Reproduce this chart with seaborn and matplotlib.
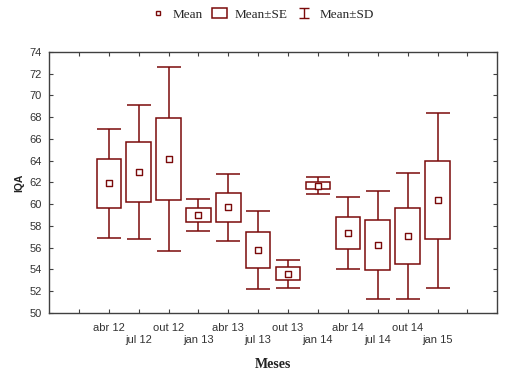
import numpy as np
import matplotlib
matplotlib.use("Agg")
import matplotlib.pyplot as plt
import seaborn as sns
from matplotlib.patches import Patch
from matplotlib.lines import Line2D
from matplotlib.path import Path

# values
months = ["abr 12", "jul 12", "out 12", "jan 13", "abr 13", "jul 13",
          "out 13", "jan 14", "abr 14", "jul 14", "out 14", "jan 15"]
means = [61.9, 62.95, 64.15, 59.0, 59.7, 55.75, 53.6, 61.7, 57.35, 56.25, 57.05, 60.35]
se = [2.25, 2.75, 3.8, 0.65, 1.35, 1.65, 0.6, 0.33, 1.47, 2.3, 2.57, 3.6]
sd = [5.0, 6.15, 8.5, 1.45, 3.05, 3.6, 1.27, 0.78, 3.35, 5.0, 5.8, 8.05]

COLOR = "#7a0a0a"
SPINE = "#404040"

# "I" shaped marker for the Mean±SD legend entry
I_MARKER = Path([(-1, 1), (1, 1), (0, 1), (0, -1), (-1, -1), (1, -1)],
                [Path.MOVETO, Path.LINETO, Path.MOVETO, Path.LINETO,
                 Path.MOVETO, Path.LINETO])


def main():
    sns.set_style("white")
    plt.rcParams["font.family"] = ["Liberation Sans", "DejaVu Sans"]

    fig, ax = plt.subplots(figsize=(5.24, 3.82), dpi=100)
    fig.subplots_adjust(left=0.0935, right=0.949, top=0.864, bottom=0.181)

    x = np.arange(2, 2 + len(months))
    means_a = np.array(means)
    se_a = np.array(se)
    sd_a = np.array(sd)

    ax.errorbar(x, means_a, yerr=sd_a, fmt="none", ecolor=COLOR,
                elinewidth=1.1, capsize=8.5, capthick=1.1, zorder=1)
    ax.bar(x, 2 * se_a, bottom=means_a - se_a, width=0.82, facecolor="white",
           edgecolor=COLOR, linewidth=1.1, zorder=2)
    sns.scatterplot(x=x, y=means_a, marker="s", s=16, facecolor="white",
                    edgecolor=COLOR, linewidth=1.0, zorder=3, ax=ax, legend=False)

    ax.set_xlim(0, 15)
    ax.set_ylim(50, 74)
    ax.set_yticks(np.arange(50, 75, 2))

    ticks = np.arange(1, 15)
    labels = [""] * len(ticks)
    for i, m in enumerate(months):
        labels[i + 1] = m if i % 2 == 0 else "\n" + m
    ax.set_xticks(ticks)
    ax.set_xticklabels(labels, fontsize=8, color="#333333", linespacing=1.25)
    ax.tick_params(axis="x", pad=7)
    ax.tick_params(axis="y", labelsize=8, labelcolor="#333333", pad=5)
    ax.tick_params(direction="in", length=3, width=0.8, color=SPINE,
                   top=True, right=True, bottom=True, left=True)
    for sp in ax.spines.values():
        sp.set_color(SPINE)
        sp.set_linewidth(1.0)

    ax.set_ylabel("IQA", fontsize=7.5, fontweight="bold", color="#222222", labelpad=4)
    ax.set_xlabel("Meses", fontsize=10, fontweight="bold", color="#222222",
                  family="Liberation Serif", labelpad=10)

    handles = [
        Line2D([], [], marker="s", linestyle="none", markersize=3.5,
               markerfacecolor="white", markeredgecolor=COLOR, markeredgewidth=1.0),
        Patch(facecolor="white", edgecolor=COLOR, linewidth=1.1),
        Line2D([], [], marker=I_MARKER, linestyle="none", markersize=7,
               markerfacecolor="none", markeredgecolor=COLOR, markeredgewidth=1.0),
    ]
    fig.legend(handles, ["Mean", "Mean±SE", "Mean±SD"], loc="center",
               bbox_to_anchor=(0.5, 0.962), ncol=3, frameon=False,
               prop={"family": "Liberation Serif", "size": 9.5},
               handlelength=1.1, handletextpad=0.6, columnspacing=0.7)

    fig.savefig("out.png", dpi=100)
    plt.close(fig)


if __name__ == "__main__":
    main()
